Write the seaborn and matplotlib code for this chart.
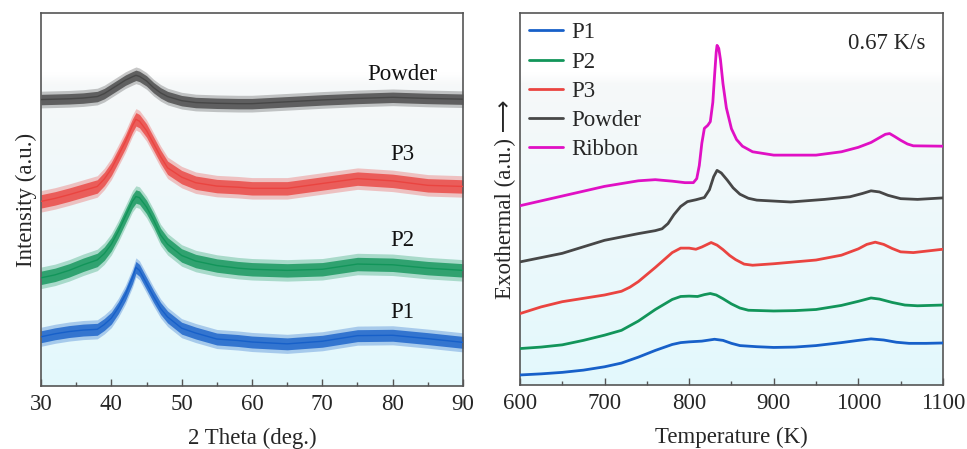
import numpy as np
import seaborn as sns
import pandas as pd
import matplotlib.pyplot as plt

# XRD patterns (left), offsets included
theta = [30, 32, 34, 36, 38, 39, 40, 41, 42, 43, 43.5, 44, 45, 46, 47, 48, 50,
         52, 55, 58, 60, 65, 70, 75, 80, 85, 90]
xrd_p1 = [13.2, 14.0, 14.6, 15.0, 15.2, 16.5, 18.2, 21.0, 24.5, 29.0, 31.8, 31.0, 27.5, 24.0,
          20.8, 18.5, 15.5, 14.2, 12.6, 12.2, 11.8, 11.3, 12.0, 13.5, 13.6, 12.7, 11.7]
xrd_p2 = [29.0, 29.8, 31.0, 32.5, 33.8, 35.5, 38.0, 41.5, 45.5, 49.5, 50.8, 50.5, 48.0, 44.5,
          40.5, 38.0, 35.0, 33.5, 32.3, 31.6, 31.3, 31.0, 31.3, 32.7, 32.5, 31.6, 31.0]
xrd_p3 = [49.5, 50.3, 51.3, 52.4, 53.5, 55.5, 58.2, 61.8, 65.5, 69.8, 71.5, 71.0, 68.5, 65.0,
          61.5, 58.5, 56.0, 54.5, 53.6, 53.3, 53.0, 53.0, 54.3, 55.6, 55.0, 53.8, 53.5]
xrd_pw = [76.8, 76.9, 77.0, 77.2, 77.6, 78.4, 79.6, 80.8, 82.0, 82.9, 83.3, 83.0, 81.8, 80.0,
          78.6, 77.6, 76.5, 76.0, 75.8, 75.7, 75.7, 76.2, 76.7, 77.1, 77.4, 77.1, 76.9]
xrd_names = ["P1", "P2", "P3", "Powder"]
xrd_noise = [1.6, 1.8, 1.8, 1.4]

# DSC curves (right)
t_p1 = [600, 625, 650, 675, 700, 720, 740, 760, 780, 790, 800, 815, 830, 840, 850, 860, 880,
        900, 925, 950, 980, 1000, 1015, 1030, 1045, 1060, 1080, 1100]
d_p1 = [2.7, 3.0, 3.4, 4.0, 4.9, 5.9, 7.5, 9.3, 10.9, 11.4, 11.6, 11.8, 12.3, 12.0, 11.2,
        10.6, 10.3, 10.1, 10.2, 10.6, 11.4, 12.0, 12.4, 12.1, 11.5, 11.2, 11.2, 11.3]
t_p2 = [600, 625, 650, 675, 700, 720, 740, 760, 780, 790, 800, 810, 818, 825, 832, 840, 850,
        860, 870, 900, 925, 950, 980, 1000, 1015, 1025, 1040, 1055, 1070, 1100]
d_p2 = [9.8, 10.2, 10.8, 12.0, 13.4, 14.7, 17.2, 20.3, 23.0, 23.8, 23.9, 23.8, 24.3, 24.6,
        24.2, 23.2, 21.8, 20.7, 20.1, 19.9, 20.0, 20.3, 21.4, 22.5, 23.4, 23.1, 22.2, 21.5,
        21.3, 21.5]
t_p3 = [600, 625, 650, 675, 700, 720, 730, 740, 760, 780, 790, 800, 808, 815, 826, 833, 840,
        848, 855, 865, 875, 900, 950, 980, 1000, 1010, 1020, 1030, 1040, 1050, 1065, 1100]
d_p3 = [19.2, 21.0, 22.4, 23.3, 24.2, 25.2, 26.3, 27.8, 31.6, 35.6, 36.8, 36.8, 36.5, 37.1,
        38.3, 37.6, 36.4, 34.8, 33.7, 32.5, 32.2, 32.6, 33.6, 34.9, 36.6, 37.8, 38.4, 37.8,
        36.7, 35.8, 35.6, 36.5]
t_pw = [600, 650, 700, 740, 760, 768, 775, 782, 790, 798, 808, 818, 824, 829, 833, 838, 845,
        852, 860, 870, 880, 920, 960, 990, 1005, 1015, 1025, 1035, 1050, 1070, 1100]
d_pw = [33.1, 35.4, 38.9, 40.7, 41.5, 42.0, 43.4, 45.8, 48.0, 49.3, 49.8, 50.4, 52.5, 56.0,
        57.7, 57.0, 55.1, 53.0, 51.3, 50.2, 49.7, 49.2, 49.9, 50.6, 51.5, 52.2, 51.9, 51.0,
        50.1, 49.9, 50.3]
t_rb = [600, 650, 700, 740, 760, 780, 795, 805, 809, 812, 815, 818, 822, 825, 828, 830, 832,
        833, 835, 837, 840, 844, 850, 856, 863, 875, 900, 950, 980, 1000, 1015, 1025, 1032,
        1037, 1043, 1050, 1058, 1065, 1100]
d_rb = [48.2, 50.8, 53.4, 54.9, 55.2, 54.8, 54.4, 54.4, 55.5, 59.0, 65.0, 69.0, 69.8, 70.8,
        76.0, 83.0, 89.5, 91.3, 90.5, 87.5, 81.0, 74.5, 68.9, 66.0, 64.2, 62.7, 61.8, 61.8,
        62.7, 63.9, 65.2, 66.5, 67.4, 67.6, 66.8, 65.8, 64.8, 64.3, 64.2]
dsc_names = ["P1", "P2", "P3", "Powder", "Ribbon"]

colors = {"P1": "#1760c9", "P2": "#12955a", "P3": "#ea4440",
          "Powder": "#474747", "Ribbon": "#e010c4"}

sns.set_style("ticks")
plt.rcParams["font.family"] = ["Liberation Serif", "DejaVu Sans"]

fig = plt.figure(figsize=(9.67, 4.49), dpi=100)
ax1 = fig.add_axes([0.0424, 0.1403, 0.4364, 0.8307])
ax2 = fig.add_axes([0.5377, 0.1425, 0.4374, 0.8285])

# pale gradient background: white at top, light cyan at the bottom
grad = np.ones((200, 1, 3))
top = np.array([0.968, 0.974, 0.977])
bot = np.array([0.89, 0.975, 0.99])
for i in range(200):
    f = i / 199.0
    if f >= 0.16:
        g = (f - 0.16) / 0.84
        w = min(1.0, (f - 0.16) / 0.03)
        c = top * (1 - g) + bot * g
        grad[i, 0] = np.array([1, 1, 1]) * (1 - w) + c * w
for ax in (ax1, ax2):
    ax.imshow(grad, extent=[0, 1, 0, 1], origin="upper", transform=ax.transAxes,
              aspect="auto", zorder=0)

# left panel
df_xrd = pd.DataFrame({"theta": theta * 4,
                       "I": xrd_p1 + xrd_p2 + xrd_p3 + xrd_pw,
                       "sample": sum([[n] * len(theta) for n in xrd_names], [])})
for name, nz in zip(xrd_names, xrd_noise):
    sub = df_xrd[df_xrd["sample"] == name]
    ax1.fill_between(sub["theta"], sub["I"] - 1.6 * nz, sub["I"] + 1.6 * nz,
                     color=colors[name], alpha=0.3, lw=0, zorder=2)
    ax1.fill_between(sub["theta"], sub["I"] - nz, sub["I"] + nz, color=colors[name],
                     alpha=0.8, lw=0, zorder=2)
sns.lineplot(data=df_xrd, x="theta", y="I", hue="sample", palette=colors, ax=ax1,
             lw=1.0, legend=False, zorder=3, estimator=None)

lab_y = {"P1": 19.6, "P2": 39.1, "P3": 62.2, "Powder": 83.6}
for name in xrd_names:
    ax1.text(81.4, lab_y[name], name, fontsize=16.5, ha="center", va="center",
             color="#111111")

ax1.set_xlim(30, 90)
ax1.set_ylim(0, 100)
ax1.set_xticks(range(30, 91, 10))
ax1.set_xticks(range(35, 90, 10), minor=True)
ax1.set_yticks([])
ax1.set_xlabel("2 Theta (deg.)", fontsize=16.5, labelpad=9)
ax1.set_ylabel("Intensity (a.u.)", fontsize=16.5, labelpad=3)

# right panel
df_dsc = pd.DataFrame({"T": t_p1 + t_p2 + t_p3 + t_pw + t_rb,
                       "Q": d_p1 + d_p2 + d_p3 + d_pw + d_rb,
                       "sample": ["P1"] * len(t_p1) + ["P2"] * len(t_p2) + ["P3"] * len(t_p3)
                       + ["Powder"] * len(t_pw) + ["Ribbon"] * len(t_rb)})
sns.lineplot(data=df_dsc, x="T", y="Q", hue="sample", hue_order=dsc_names, palette=colors,
             ax=ax2, lw=2.0, estimator=None, sort=False, zorder=3)
leg = ax2.legend(loc="upper left", frameon=False, fontsize=16.5, handlelength=1.5,
                 handletextpad=0.35, labelspacing=0.36, borderaxespad=0.0,
                 bbox_to_anchor=(0.0, 1.0))
for h in leg.get_lines():
    h.set_linewidth(2.0)
ax2.text(1034, 91.9, "0.67 K/s", fontsize=16.5, ha="center", va="center")

ax2.set_xlim(600, 1100)
ax2.set_ylim(0, 100)
ax2.set_xticks(range(600, 1101, 100))
ax2.set_xticks(range(650, 1100, 100), minor=True)
ax2.set_yticks([])
ax2.set_xlabel("Temperature (K)", fontsize=16.5, labelpad=9)
ax2.set_ylabel("Exothermal (a.u.) \u27f6", fontsize=16.5, labelpad=3)

for ax in (ax1, ax2):
    for s in ax.spines.values():
        s.set_visible(True)
        s.set_color("#555555")
        s.set_linewidth(1.2)
    ax.tick_params(axis="x", which="major", direction="in", length=5, width=1,
                   labelsize=16.5, pad=6, color="#555555")
    ax.tick_params(axis="x", which="minor", direction="in", length=3, width=1,
                   color="#555555")

fig.savefig("out.png", dpi=100)
